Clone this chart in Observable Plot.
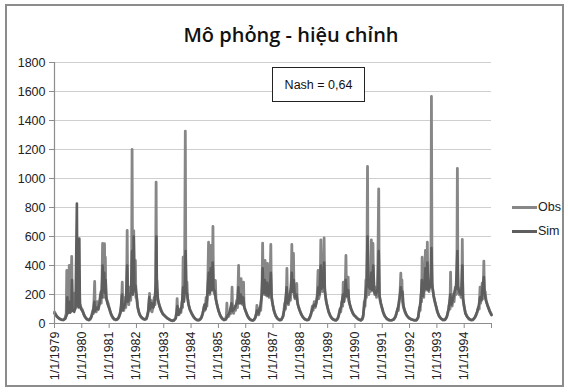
<!DOCTYPE html>
<html>
<head>
<meta charset="utf-8">
<script src="https://cdn.jsdelivr.net/npm/d3@7"></script>
<script src="https://cdn.jsdelivr.net/npm/@observablehq/plot@0.6"></script>
<style>
  body { margin: 0; background: #fff; }
  #wrap { position: relative; width: 568px; height: 392px; font-family: "Liberation Sans", Arial, sans-serif; }
  #wrap svg { position: absolute; left: 0; top: 0; }
  .border { position: absolute; left: 5px; top: 4px; width: 559px; height: 383px; border: 2px solid #8c8c8c; box-sizing: border-box; }
  .title { position: absolute; left: 0; width: 582px; top: 21px; text-align: center; font-family: "Open Sans", sans-serif; font-weight: 600; font-size: 20px; color: #111; }
  .nash { position: absolute; left: 272px; top: 67px; width: 93px; height: 35px; border: 1.5px solid #222; box-sizing: border-box; background: #fff; font-size: 12.5px; color: #111; display: flex; align-items: center; justify-content: center; }
  .leg { position: absolute; left: 512px; font-size: 12.5px; color: #222; display: flex; align-items: center; height: 14px; }
  .leg span.ln { display: inline-block; width: 25px; height: 3px; margin-right: 1px; }
</style>
</head>
<body>
<div id="wrap">
  <div class="border"></div>
</div>
<script>
// ---- data (decimal year, discharge) ----
const titleText = "Mô phỏng - hiệu chỉnh";
const nashText = "Nash = 0,64";
const seriesNames = ["Obs", "Sim"];
const seriesColors = ["#878787", "#5e5e5e"];
const yTicks = [0, 200, 400, 600, 800, 1000, 1200, 1400, 1600, 1800];
const yearTicks = [1979,1980,1981,1982,1983,1984,1985,1986,1987,1988,1989,1990,1991,1992,1993,1994];

const obs = [
[1979.00,80],[1979.05,62],[1979.10,47],[1979.16,36],[1979.22,29],[1979.28,25],[1979.34,27],[1979.39,40],[1979.43,70],[1979.45,366],[1979.46,95],[1979.50,75],[1979.54,400],[1979.56,110],[1979.59,80],[1979.63,462],[1979.65,140],[1979.69,90],[1979.73,210],[1979.75,100],[1979.79,130],[1979.82,300],[1979.84,140],[1979.88,120],[1979.91,250],[1979.93,130],[1979.97,110],
[1980.02,95],[1980.06,70],[1980.11,48],[1980.16,34],[1980.21,26],[1980.26,24],[1980.31,30],[1980.36,55],[1980.40,90],[1980.43,70],[1980.47,290],[1980.49,100],[1980.53,80],[1980.57,150],[1980.60,95],[1980.64,130],[1980.68,200],[1980.71,140],[1980.74,300],[1980.76,552],[1980.78,220],[1980.81,180],[1980.83,550],[1980.85,200],[1980.86,457],[1980.88,190],[1980.92,160],[1980.96,140],
[1981.00,110],[1981.04,80],[1981.09,55],[1981.14,38],[1981.19,28],[1981.24,24],[1981.30,28],[1981.36,45],[1981.41,80],[1981.45,120],[1981.48,285],[1981.50,110],[1981.54,90],[1981.58,180],[1981.61,110],[1981.64,250],[1981.66,642],[1981.68,180],[1981.72,130],[1981.76,250],[1981.79,160],[1981.82,300],[1981.84,1200],[1981.86,200],[1981.90,640],[1981.92,220],[1981.96,435],[1981.98,180],
[1982.00,200],[1982.03,130],[1982.07,90],[1982.12,60],[1982.18,42],[1982.24,32],[1982.30,27],[1982.36,30],[1982.41,60],[1982.45,110],[1982.48,207],[1982.50,90],[1982.54,160],[1982.57,80],[1982.61,120],[1982.65,180],[1982.68,130],[1982.70,260],[1982.72,975],[1982.74,200],[1982.75,297],[1982.78,170],[1982.82,140],[1982.87,110],[1982.92,85],[1982.97,65],
[1983.02,55],[1983.08,45],[1983.14,36],[1983.20,28],[1983.26,22],[1983.32,18],[1983.38,22],[1983.44,40],[1983.47,80],[1983.49,172],[1983.51,70],[1983.56,60],[1983.60,100],[1983.63,75],[1983.67,150],[1983.69,110],[1983.71,457],[1983.73,160],[1983.76,200],[1983.79,1327],[1983.81,230],[1983.85,285],[1983.87,180],[1983.91,130],[1983.96,95],
[1984.01,75],[1984.06,55],[1984.11,40],[1984.16,30],[1984.21,24],[1984.27,22],[1984.33,28],[1984.39,45],[1984.44,80],[1984.48,120],[1984.51,90],[1984.55,180],[1984.58,120],[1984.61,250],[1984.64,561],[1984.66,220],[1984.69,200],[1984.73,538],[1984.75,240],[1984.78,300],[1984.80,669],[1984.82,230],[1984.86,200],[1984.89,297],[1984.91,170],[1984.95,130],[1984.99,100],
[1985.02,80],[1985.06,58],[1985.10,42],[1985.15,30],[1985.20,24],[1985.25,26],[1985.29,50],[1985.31,140],[1985.33,45],[1985.38,50],[1985.43,80],[1985.47,70],[1985.50,250],[1985.52,90],[1985.56,70],[1985.60,120],[1985.63,90],[1985.67,160],[1985.70,110],[1985.74,400],[1985.76,150],[1985.80,140],[1985.83,310],[1985.85,150],[1985.89,130],[1985.92,285],[1985.94,120],[1985.98,95],
[1986.02,75],[1986.06,55],[1986.11,38],[1986.16,27],[1986.21,22],[1986.26,20],[1986.31,25],[1986.36,45],[1986.39,70],[1986.41,125],[1986.43,60],[1986.48,60],[1986.52,110],[1986.55,90],[1986.58,180],[1986.60,260],[1986.62,554],[1986.64,240],[1986.68,200],[1986.71,435],[1986.73,220],[1986.77,190],[1986.80,414],[1986.82,200],[1986.86,180],[1986.89,250],[1986.92,545],[1986.94,200],[1986.97,150],
[1987.02,105],[1987.06,75],[1987.10,52],[1987.15,36],[1987.20,27],[1987.25,22],[1987.30,26],[1987.36,45],[1987.40,90],[1987.43,140],[1987.46,100],[1987.49,200],[1987.51,380],[1987.53,150],[1987.57,130],[1987.61,200],[1987.64,160],[1987.67,300],[1987.69,545],[1987.71,230],[1987.75,483],[1987.77,200],[1987.81,170],[1987.84,200],[1987.87,276],[1987.89,150],[1987.93,120],[1987.97,95],
[1988.00,80],[1988.05,58],[1988.10,42],[1988.15,32],[1988.20,26],[1988.25,23],[1988.30,25],[1988.35,40],[1988.40,70],[1988.44,120],[1988.47,90],[1988.51,150],[1988.54,110],[1988.58,140],[1988.62,200],[1988.65,366],[1988.67,170],[1988.71,200],[1988.73,300],[1988.75,577],[1988.77,250],[1988.81,220],[1988.84,300],[1988.87,591],[1988.89,240],[1988.93,170],[1988.97,130],
[1989.01,100],[1989.05,72],[1989.10,50],[1989.15,36],[1989.20,28],[1989.25,24],[1989.31,22],[1989.36,30],[1989.41,60],[1989.45,100],[1989.48,80],[1989.52,150],[1989.55,120],[1989.57,285],[1989.59,150],[1989.62,200],[1989.65,300],[1989.67,469],[1989.69,200],[1989.72,180],[1989.75,320],[1989.77,160],[1989.81,130],[1989.86,100],[1989.91,75],[1989.96,58],
[1990.02,48],[1990.07,38],[1990.12,30],[1990.17,25],[1990.22,22],[1990.27,28],[1990.31,60],[1990.34,150],[1990.37,120],[1990.40,300],[1990.42,180],[1990.44,435],[1990.46,1083],[1990.48,250],[1990.51,200],[1990.54,300],[1990.57,220],[1990.60,577],[1990.62,250],[1990.66,552],[1990.68,240],[1990.72,200],[1990.76,250],[1990.79,180],[1990.83,220],[1990.87,929],[1990.89,200],[1990.93,150],[1990.97,120],
[1991.01,95],[1991.05,68],[1991.10,48],[1991.15,35],[1991.20,27],[1991.25,22],[1991.31,21],[1991.37,24],[1991.43,30],[1991.48,45],[1991.52,70],[1991.56,100],[1991.59,90],[1991.62,160],[1991.65,200],[1991.68,347],[1991.70,180],[1991.72,300],[1991.74,150],[1991.78,110],[1991.83,80],[1991.88,60],[1991.94,45],[1991.99,36],
[1992.04,30],[1992.10,26],[1992.16,23],[1992.22,21],[1992.27,25],[1992.32,45],[1992.36,110],[1992.39,90],[1992.42,200],[1992.44,150],[1992.46,457],[1992.48,200],[1992.52,180],[1992.55,300],[1992.58,504],[1992.60,230],[1992.63,260],[1992.65,561],[1992.67,240],[1992.71,220],[1992.75,300],[1992.78,260],[1992.80,1566],[1992.82,280],[1992.86,220],[1992.90,170],[1992.95,130],[1992.99,100],
[1993.03,75],[1993.07,55],[1993.12,40],[1993.17,30],[1993.22,24],[1993.27,23],[1993.32,30],[1993.37,50],[1993.41,80],[1993.45,130],[1993.48,100],[1993.50,354],[1993.52,150],[1993.56,120],[1993.60,200],[1993.63,150],[1993.67,250],[1993.70,200],[1993.73,280],[1993.75,1070],[1993.77,260],[1993.81,200],[1993.85,240],[1993.88,180],[1993.91,200],[1993.93,580],[1993.95,180],[1993.98,130],
[1994.02,95],[1994.06,68],[1994.11,48],[1994.16,35],[1994.21,27],[1994.26,23],[1994.31,24],[1994.37,35],[1994.43,55],[1994.48,80],[1994.52,110],[1994.55,100],[1994.58,250],[1994.60,140],[1994.63,180],[1994.66,280],[1994.68,170],[1994.70,250],[1994.72,430],[1994.74,200],[1994.77,220],[1994.80,160],[1994.85,130],[1994.90,105],[1994.95,80],[1995.00,62]
];

const sim = [
[1979.00,70],[1979.06,55],[1979.12,42],[1979.19,32],[1979.26,26],[1979.33,24],[1979.40,35],[1979.45,60],[1979.47,180],[1979.49,70],[1979.55,150],[1979.57,75],[1979.62,120],[1979.64,300],[1979.66,90],[1979.72,80],[1979.77,110],[1979.82,828],[1979.84,150],[1979.88,110],[1979.91,586],[1979.93,140],[1979.97,100],
[1980.03,85],[1980.09,55],[1980.15,38],[1980.21,28],[1980.27,25],[1980.34,40],[1980.41,80],[1980.46,150],[1980.48,85],[1980.55,110],[1980.60,100],[1980.66,150],[1980.70,220],[1980.73,180],[1980.76,400],[1980.78,230],[1980.82,350],[1980.84,210],[1980.87,300],[1980.90,170],[1980.95,130],
[1981.02,95],[1981.08,60],[1981.14,40],[1981.20,29],[1981.27,26],[1981.34,38],[1981.41,70],[1981.47,200],[1981.49,90],[1981.56,120],[1981.62,170],[1981.66,400],[1981.69,150],[1981.75,180],[1981.80,220],[1981.84,500],[1981.87,200],[1981.90,600],[1981.93,230],[1981.97,260],
[1982.01,180],[1982.05,110],[1982.10,70],[1982.16,48],[1982.23,35],[1982.30,28],[1982.37,35],[1982.43,80],[1982.47,180],[1982.50,100],[1982.56,140],[1982.62,110],[1982.67,160],[1982.71,280],[1982.73,600],[1982.75,250],[1982.79,160],[1982.85,115],[1982.91,85],[1982.96,68],
[1983.00,60],[1983.07,47],[1983.14,35],[1983.22,26],[1983.30,20],[1983.37,22],[1983.44,35],[1983.50,120],[1983.53,60],[1983.60,80],[1983.66,120],[1983.71,250],[1983.74,150],[1983.78,300],[1983.80,500],[1983.83,220],[1983.86,200],[1983.90,140],[1983.95,100],
[1984.02,70],[1984.09,48],[1984.16,32],[1984.23,25],[1984.30,24],[1984.37,38],[1984.43,70],[1984.49,130],[1984.53,100],[1984.58,160],[1984.62,280],[1984.65,350],[1984.68,210],[1984.72,380],[1984.75,230],[1984.79,420],[1984.82,240],[1984.87,220],[1984.91,160],[1984.96,120],
[1985.00,90],[1985.07,55],[1985.14,35],[1985.21,26],[1985.28,30],[1985.34,55],[1985.40,70],[1985.48,140],[1985.51,85],[1985.58,100],[1985.65,130],[1985.70,150],[1985.73,250],[1985.76,140],[1985.82,200],[1985.85,140],[1985.91,180],[1985.95,110],
[1986.00,85],[1986.07,50],[1986.14,32],[1986.21,24],[1986.28,22],[1986.35,40],[1986.42,90],[1986.47,70],[1986.54,120],[1986.59,200],[1986.62,380],[1986.65,210],[1986.70,300],[1986.74,200],[1986.79,280],[1986.83,190],[1986.88,220],[1986.92,350],[1986.95,180],[1986.99,130],
[1987.03,90],[1987.09,58],[1987.16,36],[1987.23,26],[1987.30,25],[1987.37,50],[1987.43,110],[1987.50,250],[1987.54,140],[1987.60,170],[1987.66,250],[1987.69,350],[1987.72,220],[1987.76,300],[1987.80,180],[1987.86,200],[1987.91,130],[1987.96,100],
[1988.02,70],[1988.09,45],[1988.16,31],[1988.23,25],[1988.30,26],[1988.37,55],[1988.44,100],[1988.50,130],[1988.56,120],[1988.62,180],[1988.66,250],[1988.70,200],[1988.75,400],[1988.78,240],[1988.83,260],[1988.87,420],[1988.90,220],[1988.95,150],
[1989.03,85],[1989.10,52],[1989.17,33],[1989.24,25],[1989.31,23],[1989.38,38],[1989.45,90],[1989.50,120],[1989.56,200],[1989.60,150],[1989.66,300],[1989.70,190],[1989.75,230],[1989.79,150],[1989.85,105],[1989.92,72],[1989.98,55],
[1990.00,52],[1990.08,36],[1990.15,27],[1990.22,23],[1990.29,40],[1990.34,120],[1990.39,200],[1990.43,280],[1990.46,600],[1990.49,260],[1990.55,240],[1990.60,350],[1990.63,230],[1990.67,400],[1990.71,220],[1990.77,200],[1990.83,240],[1990.87,500],[1990.90,190],[1990.95,140],
[1991.03,80],[1991.10,50],[1991.18,32],[1991.26,24],[1991.34,22],[1991.42,28],[1991.49,50],[1991.55,90],[1991.60,130],[1991.64,180],[1991.68,250],[1991.71,200],[1991.74,220],[1991.78,120],[1991.84,80],[1991.91,52],[1991.98,38],
[1992.02,34],[1992.09,27],[1992.17,23],[1992.24,22],[1992.31,40],[1992.36,100],[1992.41,160],[1992.45,300],[1992.49,190],[1992.54,250],[1992.58,380],[1992.61,240],[1992.65,420],[1992.69,230],[1992.74,250],[1992.78,300],[1992.80,520],[1992.83,260],[1992.88,190],[1992.94,140],[1992.99,105],
[1993.01,85],[1993.08,52],[1993.15,34],[1993.22,26],[1993.29,26],[1993.36,45],[1993.43,100],[1993.49,200],[1993.53,130],[1993.59,170],[1993.65,220],[1993.70,250],[1993.75,500],[1993.78,240],[1993.84,210],[1993.89,200],[1993.93,400],[1993.96,170],
[1994.04,70],[1994.11,45],[1994.18,31],[1994.25,25],[1994.32,27],[1994.40,45],[1994.47,80],[1994.53,120],[1994.58,180],[1994.63,160],[1994.67,240],[1994.72,320],[1994.75,200],[1994.81,150],[1994.87,115],[1994.93,85],[1995.00,58]
];

// ---- helpers ----
function toDate(t) {
  const y = Math.floor(t);
  const a = Date.UTC(y, 0, 1), b = Date.UTC(y + 1, 0, 1);
  return new Date(a + (t - y) * (b - a));
}
const rows = [];
obs.forEach(([t, v]) => rows.push({date: toDate(t), value: v, series: seriesNames[0]}));
sim.forEach(([t, v]) => rows.push({date: toDate(t), value: v, series: seriesNames[1]}));
const tickDates = yearTicks.map(y => new Date(Date.UTC(y, 0, 1)));
const xStart = new Date(Date.UTC(yearTicks[0], 0, 1));
const xEnd = new Date(Date.UTC(yearTicks[yearTicks.length - 1] + 1, 0, 1));

const chart = Plot.plot({
  width: 568,
  height: 392,
  marginTop: 62,
  marginBottom: 69,
  marginLeft: 54,
  marginRight: 77,
  style: {fontFamily: "Liberation Sans, Arial, sans-serif", fontSize: "12.5px", background: "transparent", color: "#222"},
  x: {type: "utc", domain: [xStart, xEnd]},
  y: {domain: [0, 1800]},
  color: {domain: seriesNames, range: seriesColors},
  marks: [
    Plot.ruleY(yTicks.filter(d => d > 0), {stroke: "#cfcfcf", strokeWidth: 1}),
    Plot.line(rows.filter(d => d.series === seriesNames[0]), {x: "date", y: "value", stroke: seriesColors[0], strokeWidth: 2.8, strokeLinejoin: "round"}),
    Plot.line(rows.filter(d => d.series === seriesNames[1]), {x: "date", y: "value", stroke: seriesColors[1], strokeWidth: 2.6, strokeLinejoin: "round"}),
    Plot.ruleY([0], {stroke: "#8c8c8c", strokeWidth: 1.2}),
    Plot.ruleX([xStart], {stroke: "#8c8c8c", strokeWidth: 1.2}),
    Plot.axisY({ticks: yTicks, tickSize: 5, tickPadding: 4, stroke: "#8c8c8c", fill: "#222", label: null, fontSize: 12.5, tickFormat: d => String(d)}),
    Plot.axisX({ticks: [...tickDates, xEnd], tickSize: 5, tickPadding: 3, tickRotate: -90, stroke: "#8c8c8c", fill: "#222", label: null, fontSize: 12.5,
      tickFormat: d => d.getUTCFullYear() <= yearTicks[yearTicks.length - 1] ? `1/1/${d.getUTCFullYear()}` : ""})
  ]
});

const wrap = document.getElementById("wrap");
wrap.appendChild(chart);

const title = document.createElement("div");
title.className = "title";
title.textContent = titleText;
wrap.appendChild(title);

const nash = document.createElement("div");
nash.className = "nash";
nash.textContent = nashText;
wrap.appendChild(nash);

seriesNames.forEach((name, i) => {
  const d = document.createElement("div");
  d.className = "leg";
  d.style.top = (200 + i * 24) + "px";
  d.innerHTML = `<span class="ln" style="background:${seriesColors[i]}"></span>${name}`;
  wrap.appendChild(d);
});
</script>
</body>
</html>
